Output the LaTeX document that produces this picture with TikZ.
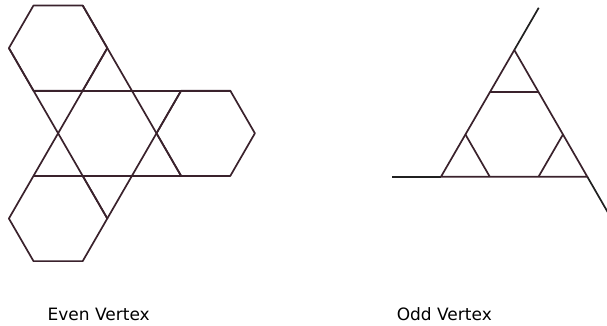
\documentclass[tikz,border=0pt]{standalone}
\usepackage{fontspec}
\setmainfont{DejaVu Sans}
\usetikzlibrary{calc}
\definecolor{edgecol}{RGB}{58,34,44}
\definecolor{extcol}{RGB}{32,32,32}
\tikzset{
  edgeline/.style={draw=edgecol, line width=1.7pt, line join=round},
  extline/.style={draw=extcol, line width=1.7pt},
  caption/.style={font=\fontsize{17}{20}\selectfont, inner sep=0pt, anchor=base}
}
\begin{document}
\begin{tikzpicture}[x=1pt,y=-1pt]
\useasboundingbox (0,0) rectangle (607,326);
\clip (0,0) rectangle (607,326);
% Even vertex
\begin{scope}[shift={(107.3,133.3)}, x=49.2pt, y=49.2pt]
  \foreach \c in {0,120,240}
    \draw[edgeline] (\c:2) ++(0:1) -- ++(120:1) -- ++(180:1) -- ++(240:1) -- ++(300:1) -- ++(0:1) -- cycle;
  \draw[edgeline] (-1.5,0.866) -- (2.5,0.866);
  \draw[edgeline] (-1.5,-0.866) -- (2.5,-0.866);
  \draw[edgeline] (-0.5,2.598) -- (1.5,-0.866);
  \draw[edgeline] (0,1.732) -- (-1.5,-0.866);
  \draw[edgeline] (-2,1.732) -- (0,-1.732);
  \draw[edgeline] (1.5,0.866) -- (0,-1.732);
\end{scope}
% Odd vertex
\coordinate (T) at (514.3,50);
\coordinate (L) at (441,176.7);
\coordinate (R) at (587.3,176.7);
\draw[extline] (T) -- ($(T)!-1/3!(L)$);
\draw[extline] (L) -- ($(L)!-1/3!(R)$);
\draw[extline] (R) -- ($(R)!-1/3!(T)$);
\draw[edgeline] (T) -- (L) -- (R) -- cycle;
\draw[edgeline] ($(T)!1/3!(L)$) -- ($(T)!1/3!(R)$);
\draw[edgeline] ($(L)!1/3!(T)$) -- ($(L)!1/3!(R)$);
\draw[edgeline] ($(R)!1/3!(T)$) -- ($(R)!1/3!(L)$);
% captions
\node[caption] (even) at (98.7,320) {Even Vertex};
\node[caption] (odd) at (444.3,320) {Odd Vertex};
\end{tikzpicture}
\end{document}
